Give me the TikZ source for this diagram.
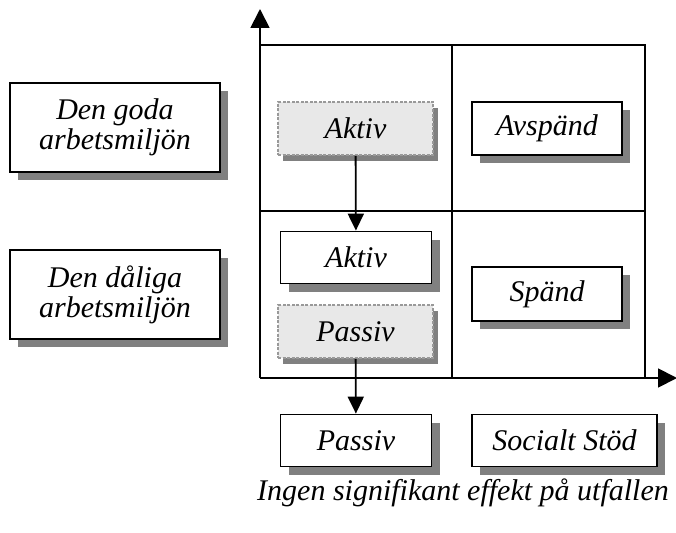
\documentclass[tikz,border=0pt]{standalone}
\usepackage{fontspec}
\setmainfont{Liberation Serif}
\usetikzlibrary{arrows.meta,shadows}

\begin{document}
\begin{tikzpicture}[x=1pt,y=-1pt,
  txt/.style={font=\fontsize{30}{30}\selectfont\itshape},
  shade/.style={drop shadow={shadow xshift=8pt,shadow yshift=-8pt,opacity=1,fill=black!50}},
  box/.style={txt,shade,draw,line width=1.8pt,fill=white,inner sep=0pt,
    minimum width=151pt,minimum height=52pt,align=center},
  bigbox/.style={box,minimum width=210pt,minimum height=89pt},
  dimbox/.style={txt,draw=black!40,dashed,dash pattern=on 3pt off 1.5pt,line width=1.8pt,
    fill=black!9,inner sep=0pt,minimum width=155pt,minimum height=53pt,
    drop shadow={shadow xshift=5pt,shadow yshift=-6pt,opacity=1,fill=black!50}},
  grid/.style={line width=1.8pt},
  axis/.style={line width=1.8pt,-{Triangle[length=19pt,width=19pt]}},
  flow/.style={line width=1.8pt,-{Triangle[length=17pt,width=16pt]}}
]
\useasboundingbox (0,0) rectangle (676,532);

% quadrants
\coordinate (o) at (260,378);
\coordinate (ytip) at (260,9);
\coordinate (xtip) at (677,378);
\draw[grid] (260,45) -- (645,45) -- (645,378);
\draw[grid] (452,45) -- (452,378);
\draw[grid] (260,211) -- (645,211);
\draw[axis] (o) -- (ytip);
\draw[axis] (o) -- (xtip);

% left labels
\node[bigbox] (goda) at (115,127.5) {Den goda\\arbetsmiljön};
\node[bigbox] (daliga) at (115,294.5) {Den dåliga\\arbetsmiljön};

% left column
\node[dimbox] (aktivA) at (355.5,128.5) {Aktiv};
\node[box] (aktivB) at (356,257.5) {Aktiv};
\node[dimbox] (passivA) at (355.5,331.5) {Passiv};
\node[box] (passivB) at (356,440.5) {Passiv};

% right column
\node[box,minimum width=150pt,minimum height=53pt] (avspand) at (547,128.5) {Avspänd};
\node[box,minimum width=150pt,minimum height=54pt] (spand) at (547,294) {Spänd};
\node[box,minimum width=185pt] (stod) at (564.5,440.5) {Socialt Stöd};

\draw[flow] (aktivA) -- (aktivB);
\draw[flow] (passivA) -- (passivB);

\node[txt] (note) at (463,493) {Ingen signifikant effekt på utfallen};
\end{tikzpicture}
\end{document}
